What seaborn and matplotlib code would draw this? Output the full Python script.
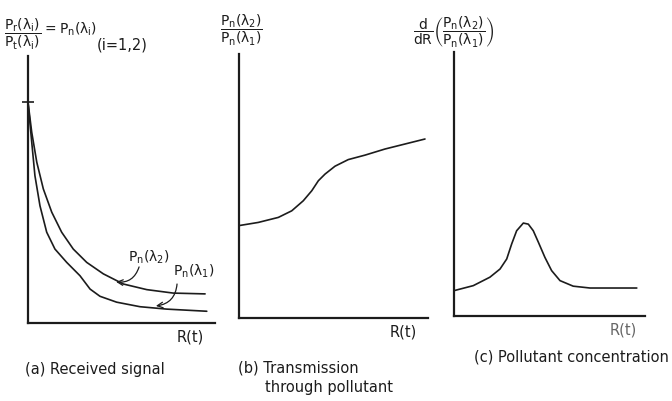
import matplotlib
matplotlib.use("Agg")
import matplotlib.pyplot as plt
import seaborn as sns
import pandas as pd

# (a) received signal, x and y in percent of the drawn axes
a_r_lam2 = [0, 2.0, 4.7, 8.2, 12.7, 18.0, 24.2, 31.4, 40.3, 51.0, 63.5, 77.7, 94.7]
a_p_lam2 = [82.7, 71.4, 60.2, 50.2, 41.5, 34.0, 27.7, 22.7, 18.4, 14.6, 12.5, 11.2, 10.9]
a_r_lam1 = [0, 2.0, 3.7, 6.4, 10.0, 14.4, 20.7, 27.8, 33.2, 38.5, 47.4, 59.9, 74.2, 95.6]
a_p_lam1 = [82.7, 67.7, 55.2, 43.9, 34.0, 27.7, 22.7, 17.7, 12.7, 10.0, 7.8, 6.1, 5.2, 4.4]

# (b) transmission ratio
b_r = [0, 10.2, 20.8, 27.9, 34.0, 38.5, 42.0, 45.5, 50.8, 57.8, 66.7, 77.2, 87.8, 98.4]
b_ratio = [35.0, 36.2, 38.1, 40.6, 44.4, 48.2, 52.0, 54.5, 57.5, 60.0, 61.7, 64.0, 65.9, 67.8]

# (c) derivative of the ratio
c_r = [0, 10.1, 18.8, 24.1, 27.6, 30.2, 32.8, 36.3, 38.9, 41.5, 44.2, 47.6, 51.1, 55.5, 62.4, 71.2, 95.7]
c_deriv = [9.6, 11.5, 14.7, 17.8, 21.6, 27.3, 32.3, 35.2, 34.8, 32.3, 27.9, 22.2, 17.2, 13.4, 11.3, 10.6, 10.6]

captions = ["(a) Received signal", "(b) Transmission", "through pollutant", "(c) Pollutant concentration"]

sns.set_style("white")
plt.rcParams["font.family"] = ["DejaVu Sans"]
plt.rcParams["mathtext.fontset"] = "dejavusans"
plt.rcParams["mathtext.default"] = "regular"

INK = "#1c1c1c"
W, H = 672, 402
fig = plt.figure(figsize=(W / 100, H / 100), dpi=100)


def px_axes(left, right, bottom, top):
    return fig.add_axes([left / W, 1 - bottom / H, (right - left) / W, (bottom - top) / H])


def style(ax):
    ax.set_xlim(0, 100)
    ax.set_ylim(0, 100)
    sns.despine(ax=ax)
    for side in ("left", "bottom"):
        ax.spines[side].set_color(INK)
        ax.spines[side].set_linewidth(1.6)
    ax.set_xticks([])
    ax.set_yticks([])
    ax.set_ylabel("")
    ax.set_xlabel("R(t)", fontsize=10.5, color=INK)


ax_a = px_axes(28, 215, 324, 57)
ax_b = px_axes(239, 428, 319, 55)
ax_c = px_axes(454, 645, 317, 53)

df_a2 = pd.DataFrame({"r": a_r_lam2, "p": a_p_lam2})
df_a1 = pd.DataFrame({"r": a_r_lam1, "p": a_p_lam1})
sns.lineplot(data=df_a2, x="r", y="p", sort=False, estimator=None, color=INK, lw=1.2, ax=ax_a)
sns.lineplot(data=df_a1, x="r", y="p", sort=False, estimator=None, color=INK, lw=1.2, ax=ax_a)
style(ax_a)
ax_a.set_yticks([a_p_lam2[0]])
ax_a.tick_params(axis="y", direction="inout", length=8, width=1.2, color=INK, labelleft=False, left=True)
ax_a.xaxis.set_label_coords(0.866, -0.02)
ax_a.text(64.7, 25.1, r"$P_n(\lambda_2)$", ha="center", va="center", fontsize=10, color=INK)
ax_a.text(88.8, 19.9, r"$P_n(\lambda_1)$", ha="center", va="center", fontsize=10, color=INK)
ax_a.annotate("", xy=(47.1, 15.4), xytext=(59.4, 21.0),
              arrowprops=dict(arrowstyle="->", lw=0.9, color=INK, shrinkA=0, shrinkB=0,
                              connectionstyle="arc3,rad=-0.4"))
ax_a.annotate("", xy=(68.4, 6.4), xytext=(79.7, 14.6),
              arrowprops=dict(arrowstyle="->", lw=0.9, color=INK, shrinkA=0, shrinkB=0,
                              connectionstyle="arc3,rad=-0.4"))

sns.lineplot(x=b_r, y=b_ratio, sort=False, estimator=None, color=INK, lw=1.2, ax=ax_b)
style(ax_b)
ax_b.xaxis.set_label_coords(0.868, -0.02)

sns.lineplot(x=c_r, y=c_deriv, sort=False, estimator=None, color=INK, lw=1.2, ax=ax_c)
style(ax_c)
ax_c.xaxis.set_label_coords(0.885, -0.02)
ax_c.xaxis.label.set_color("#666666")

# axis headings
fig.text(4 / W, 1 - 34 / H, r"$\dfrac{P_r(\lambda_i)}{P_t(\lambda_i)}$",
         ha="left", va="center", fontsize=10, color=INK)
fig.text(42 / W, 1 - 29 / H, r"$=P_n(\lambda_i)$", ha="left", va="center", fontsize=10, color=INK)
fig.text(97 / W, 1 - 45 / H, "(i=1,2)", ha="left", va="center", fontsize=10.5, color=INK)
fig.text(220 / W, 1 - 30 / H, r"$\dfrac{P_n(\lambda_2)}{P_n(\lambda_1)}$",
         ha="left", va="center", fontsize=10, color=INK)
fig.text(413 / W, 1 - 32 / H, r"$\dfrac{d}{dR}\left(\dfrac{P_n(\lambda_2)}{P_n(\lambda_1)}\right)$",
         ha="left", va="center", fontsize=10, color=INK)

# captions
fig.text(25 / W, 1 - 370 / H, captions[0], ha="left", va="center", fontsize=10.5, color=INK)
fig.text(238 / W, 1 - 368 / H, captions[1], ha="left", va="center", fontsize=10.5, color=INK)
fig.text(265 / W, 1 - 388 / H, captions[2], ha="left", va="center", fontsize=10.5, color=INK)
fig.text(474 / W, 1 - 357 / H, captions[3], ha="left", va="center", fontsize=10.5, color=INK)

fig.savefig("out.png", dpi=100)
